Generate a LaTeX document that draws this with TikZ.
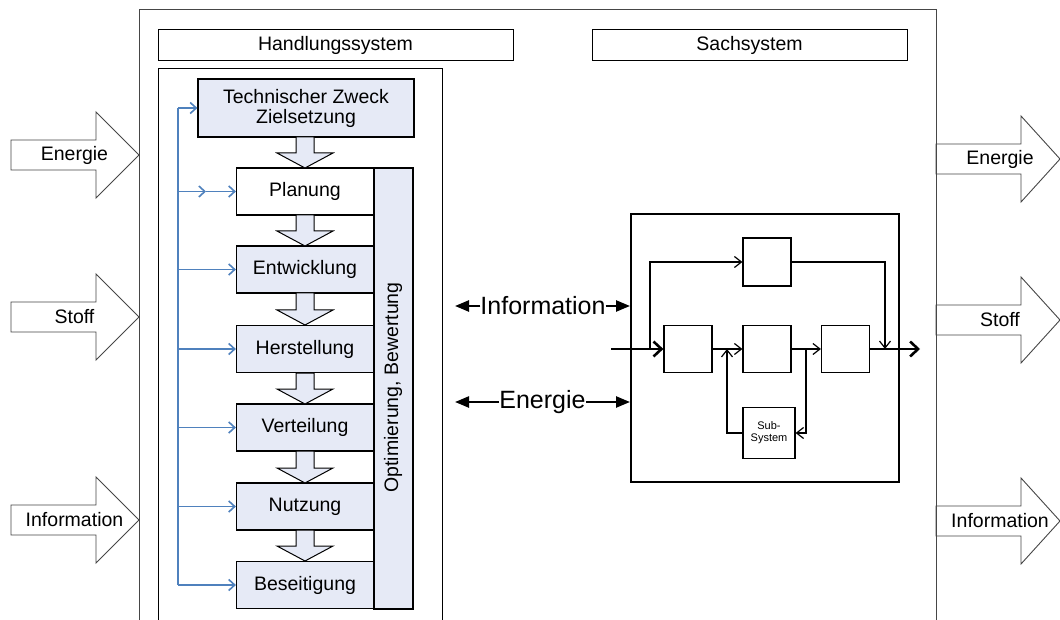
\documentclass[tikz,border=0pt]{standalone}
\usepackage{fontspec}
\setmainfont{Liberation Sans}
\usetikzlibrary{arrows.meta,calc}
\definecolor{boxfill}{RGB}{230,234,246}
\definecolor{fb}{RGB}{79,129,189}
\definecolor{frame}{RGB}{70,70,70}
\newcommand{\fsnorm}{\fontsize{19.5}{21}\selectfont}
\newcommand{\fsbig}{\fontsize{25}{28}\selectfont}
\newcommand{\fssmall}{\fontsize{11}{12}\selectfont}
\tikzset{
  phase/.style={draw=black, line width=1.2pt, fill=boxfill, minimum width=137pt, minimum height=47pt, inner sep=0pt, font=\fsnorm},
  header/.style={draw=black, line width=1pt, fill=white, minimum width=355pt, minimum height=31pt, inner sep=0pt, font=\fsnorm},
  sbox/.style={draw=black, line width=1.2pt, fill=white, minimum width=48pt, minimum height=48pt, inner sep=0pt},
  frm/.style={draw=frame, line width=1pt},
  blk/.style={draw=black, line width=1pt, fill=boxfill, line join=miter},
  sideblk/.style={draw=frame, line width=0.9pt, fill=white, line join=miter},
  bluearr/.style={draw=fb, line width=1.6pt, -{Straight Barb[length=6pt,width=11pt]}},
  blueline/.style={draw=fb, line width=1.6pt},
  thinarr/.style={draw=black, line width=1.2pt, -{Straight Barb[length=7pt,width=11pt]}},
  thickarr/.style={draw=black, line width=2.6pt, -{Straight Barb[length=8pt,width=15pt]}},
  fatarr/.style={draw=black, line width=2.4pt, -{Triangle[length=14pt,width=11pt]}},
  lbl/.style={font=\fsnorm, inner sep=0pt},
}
\newcommand{\blkdown}[2]{\draw[blk] (296,#1) -- (314,#1) -- (314,#2-15) -- (333,#2-15) -- (305,#2) -- (277,#2-15) -- (296,#2-15) -- cycle;}
\newcommand{\sidearrow}[6]{% x0, xbase, xtip, yc, halfshaft, halfhead
  \draw[sideblk] (#1,#4-#5) -- (#2,#4-#5) -- (#2,#4-#6) -- (#3,#4) -- (#2,#4+#6) -- (#2,#4+#5) -- (#1,#4+#5) -- cycle;}
\begin{document}
\begin{tikzpicture}[x=1pt,y=-1pt]
\useasboundingbox (0,0) rectangle (1060,620);
\clip (0,0) rectangle (1060,620);
\fill[white] (0,0) rectangle (1060,620);

% side block arrows (left)
\sidearrow{11}{96}{139}{155}{15}{43}
\node[lbl] (inE) at (74.5,155) {Energie};
\sidearrow{11}{96}{139}{317}{15}{43}
\node[lbl] (inS) at (74.5,317) {Stoff};
\sidearrow{11}{96}{139}{520}{15}{43}
\node[lbl] (inI) at (74.5,520) {Information};

% side block arrows (right)
\sidearrow{936}{1021}{1060}{159}{15}{43}
\node[lbl] (outE) at (1000,159) {Energie};
\sidearrow{936}{1021}{1060}{320}{15}{43}
\node[lbl] (outS) at (1000,320) {Stoff};
\sidearrow{936}{1021}{1060}{521}{15}{43}
\node[lbl] (outI) at (1000,521) {Information};

% frames
\draw[frm] (139,10) rectangle (936,640);
\draw[draw=black, line width=1pt] (158,69) rectangle (442,640);

% headers
\node[header] (hs) at (335.5,45.5) {Handlungssystem};
\node[header, minimum width=315pt] (ss) at (749.5,45.5) {Sachsystem};

% Handlungssystem boxes
\node[phase, minimum width=216pt, minimum height=58pt, align=center] (tz) at (306,108) {Technischer Zweck\\[-1pt]Zielsetzung};
\node[phase, fill=white] (plan) at (305,191.5) {Planung};
\node[phase] (ent) at (305,269.5) {Entwicklung};
\node[phase] (her) at (305,349) {Herstellung};
\node[phase] (ver) at (305,427.5) {Verteilung};
\node[phase] (nut) at (305,506.5) {Nutzung};
\node[phase] (bes) at (305,585) {Beseitigung};
\node[phase, minimum width=39pt, minimum height=441pt] (opt) at (393.5,388.5) {};
\node[lbl, rotate=90] (optl) at (393,387.5) {Optimierung, Bewertung};

% block arrows down
\blkdown{137}{168}
\blkdown{215}{246}
\blkdown{293}{325}
\blkdown{373}{404}
\blkdown{451}{483}
\blkdown{530}{561}

% blue feedback lines
\coordinate (bl) at (178,0);
\coordinate (bm) at (206,191.5);
\draw[blueline] (bl |- tz.west) -- (bl |- bes.west);
\draw[bluearr] (bl |- tz.west) -- (tz.west);
\draw[bluearr] (bl |- plan.west) -- (bm);
\draw[bluearr] (bm) -- (plan.west);
\draw[bluearr] (bl |- ent.west) -- (ent.west);
\draw[bluearr] (bl |- her.west) -- (her.west);
\draw[bluearr] (bl |- ver.west) -- (ver.west);
\draw[bluearr] (bl |- nut.west) -- (nut.west);
\draw[bluearr] (bl |- bes.west) -- (bes.west);

% Sachsystem
\node[draw=black, line width=1.2pt, minimum width=268pt, minimum height=268pt, inner sep=0pt] (sach) at (765,348) {};
\node[sbox] (btop) at (767,262) {};
\node[sbox, minimum height=47pt] (b1) at (688,349) {};
\node[sbox, minimum height=47pt] (b2) at (767,349) {};
\node[sbox, minimum height=47pt] (b3) at (845.5,349) {};
\node[sbox, minimum width=52pt, minimum height=51pt, align=center, font=\fssmall] (sub) at (769,433) {Sub-\\System};

\coordinate (in) at (611,349);
\coordinate (lb) at (650,349);
\coordinate (rj) at (885,349);
\coordinate (sj) at (806,349);
\coordinate (lj) at (727,349);
\coordinate (out) at (920,349);

\draw[thickarr] (in) -- (b1.west);
\draw[thinarr] (lb) |- (btop.west);
\draw[thinarr] (btop.east) -| (rj);
\draw[thinarr] (b1.east) -- (b2.west);
\draw[thinarr] (b2.east) -- (b3.west);
\draw[thinarr] (sj) |- (sub.east);
\draw[thinarr] (sub.west) -| (lj);
\draw[thickarr] (b3.east) -- (out);

% Information / Energie exchange
\node[font=\fsbig, inner sep=0pt] (info) at (543,306) {Information};
\node[font=\fsbig, inner sep=0pt] (ener) at (542.5,402) {Energie};
\coordinate (il) at (455,306);
\coordinate (ir) at (630,306);
\coordinate (el) at (455,402);
\coordinate (er) at (630,402);
\draw[fatarr] (info.west) -- (il);
\draw[fatarr] (info.east) -- (ir);
\draw[fatarr] (ener.west) -- (el);
\draw[fatarr] (ener.east) -- (er);
\end{tikzpicture}
\end{document}
